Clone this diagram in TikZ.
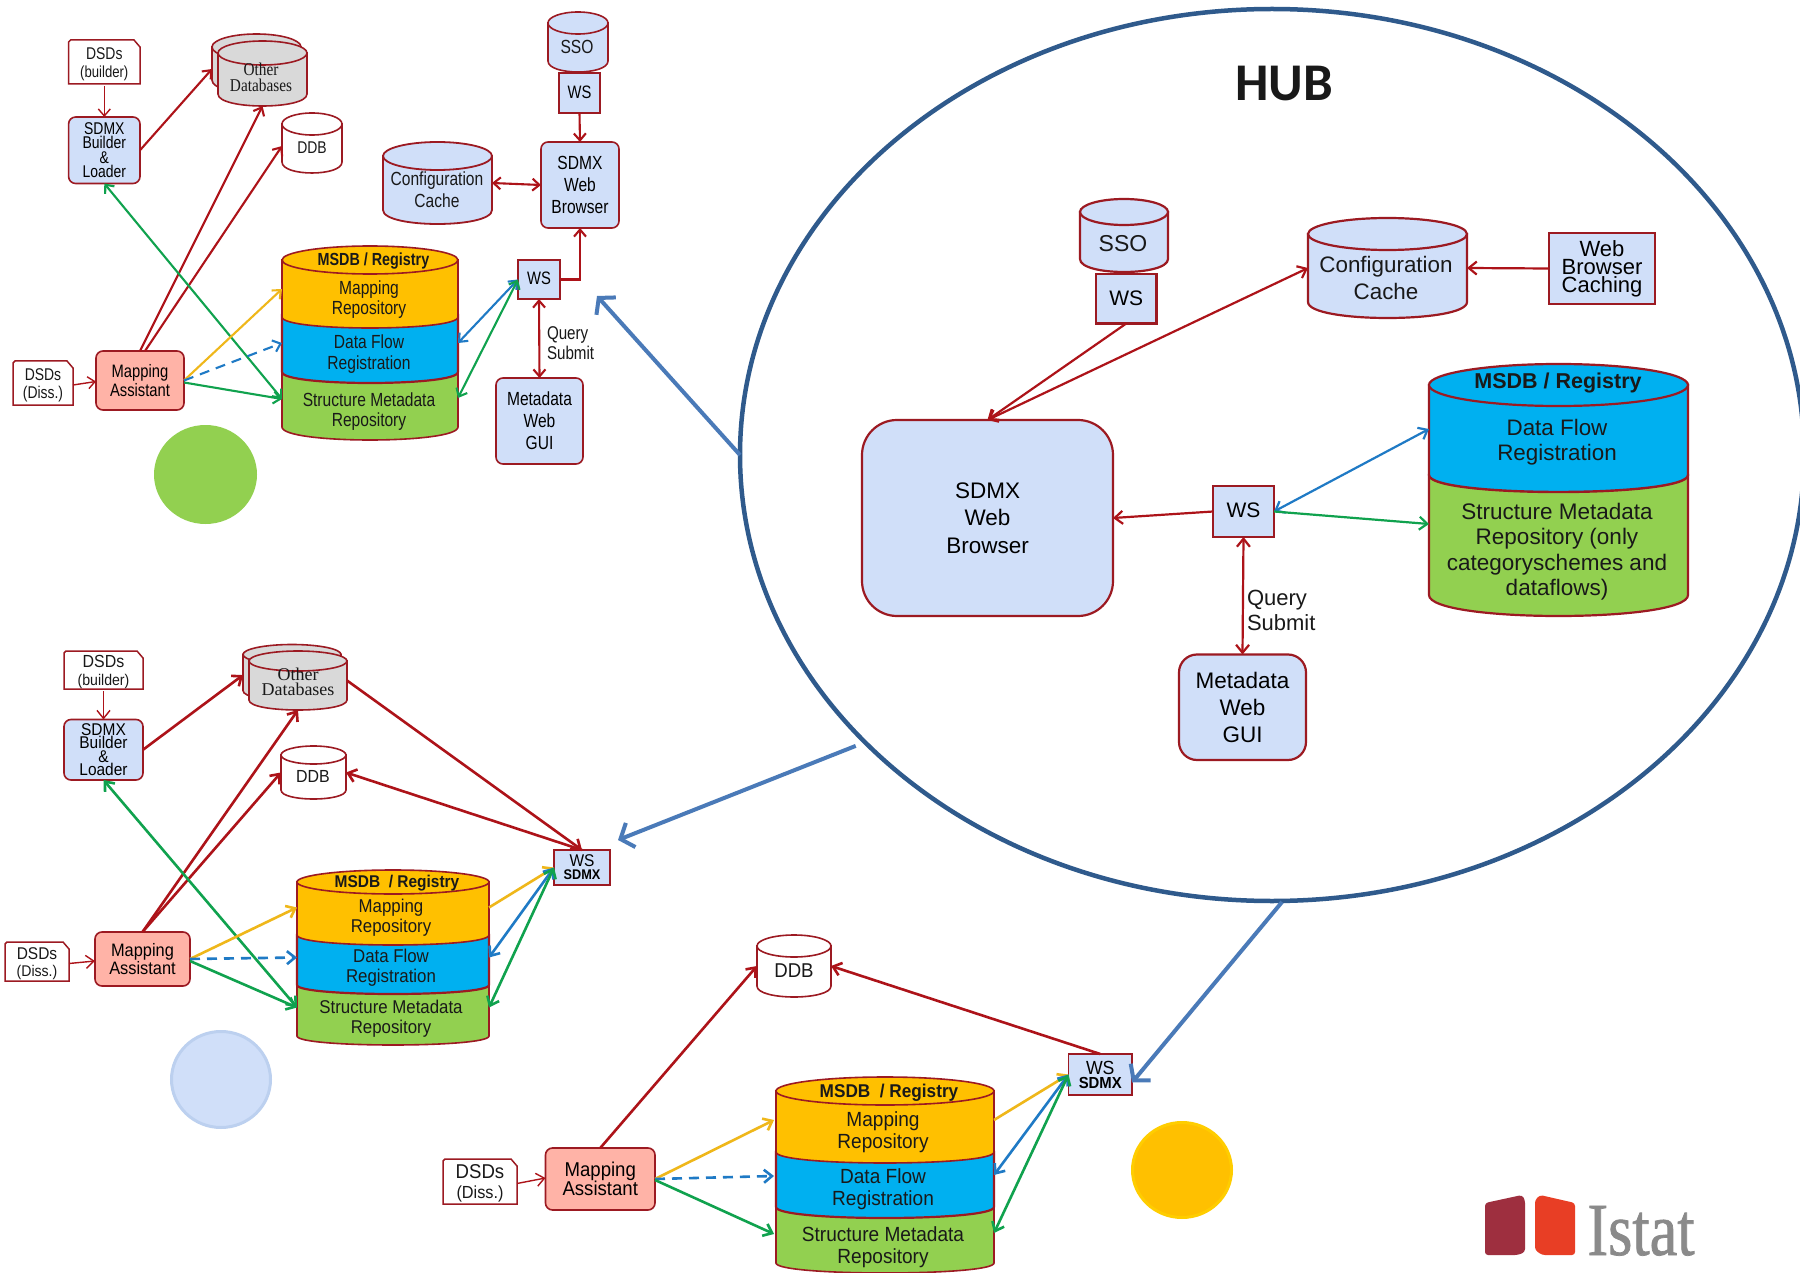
\documentclass[tikz,border=0pt]{standalone}
\usepackage{fontspec}
\usetikzlibrary{arrows.meta,calc,shapes.geometric}
\setmainfont{Liberation Sans}
\newfontfamily\fA[FakeStretch=.82]{Liberation Sans}
\newfontfamily\fB[FakeStretch=.91]{Liberation Sans}
\newfontfamily\fC[FakeStretch=.93]{Liberation Sans}
\newfontfamily\fH{Liberation Sans}
\newfontfamily\serifA[FakeStretch=.85]{Liberation Serif}
\newfontfamily\serifB{Liberation Serif}
\newfontfamily\logofont[FakeStretch=.83,FakeBold=1]{Liberation Serif}
\newfontfamily\hubfont{Carlito}
\newcommand\sz[2]{\fontsize{#1}{#2}\selectfont}
\definecolor{dred}{HTML}{9C1A22}
\definecolor{ared}{HTML}{AD1319}
\definecolor{nblue}{HTML}{D0DFF9}
\definecolor{pblue}{HTML}{00B0F0}
\definecolor{pgreen}{HTML}{92D050}
\definecolor{porange}{HTML}{FFC000}
\definecolor{msalmon}{HTML}{FFB3A7}
\definecolor{dgray}{HTML}{D9D9D9}
\definecolor{agreen}{HTML}{10A24E}
\definecolor{ayellow}{HTML}{EFB71A}
\definecolor{ablue}{HTML}{1F7AC5}
\definecolor{hubline}{HTML}{2F5A8C}
\definecolor{hubarrow}{HTML}{4A7AB8}
\definecolor{logodark}{HTML}{9E2F3F}
\definecolor{logored}{HTML}{E83E25}
\definecolor{logogray}{HTML}{8A8A8A}
\tikzset{
  lw/.style={line width=1.6pt},
  nodebase/.style={draw=dred,lw,inner sep=0pt,outer sep=0pt,align=center},
  bluebox/.style={nodebase,fill=nblue,rounded corners=7pt},
  squarebox/.style={nodebase,fill=nblue},
  salmonbox/.style={nodebase,fill=msalmon,rounded corners=7pt},
  anchorbox/.style={inner sep=0pt,outer sep=0pt},
  txt/.style={inner sep=0pt,outer sep=0pt,align=center,text=black!90},
  conn/.style={line width=2.1pt,>={Straight Barb[length=7pt,width=12pt]}},
  thinred/.style={conn,draw=ared,line width=1.4pt},
  redc/.style={conn,draw=ared},
  greenc/.style={conn,draw=agreen},
  yellowc/.style={conn,draw=ayellow},
  bluec/.style={conn,draw=ablue},
  dashc/.style={conn,draw=ablue,dash pattern=on 10pt off 7pt},
  hubc/.style={line width=4pt,draw=hubarrow,>={Straight Barb[length=11pt,width=26pt]}}
}
% box: style, name, x1, y1, x2, y2, text
\newcommand\bx[7]{\node[#1,minimum width={(#5-#3)*1pt},minimum height={(#6-#4)*1pt}] (#2) at ({(#3+#5)/2},{(#4+#6)/2}) {#7};}
% text: name, x, y, font, text
\newcommand\tx[5]{\node[txt,font={#4}] (#1) at (#2,#3) {#5};}
% layer: x1, x2, ytop, ybottom, ry, fill, line width
\newcommand\layer[7]{\filldraw[draw=dred,fill=#6,line width=#7pt] (#1,#3) -- (#1,#4) .. controls (#1,{#4+1.333*#5}) and (#2,{#4+1.333*#5}) .. (#2,#4) -- (#2,#3) -- cycle;}
% lid: x1, x2, yc, ry, fill, line width
\newcommand\lid[6]{\filldraw[draw=dred,fill=#5,line width=#6pt] ({(#1+#2)/2},#3) ellipse [x radius={(#2-#1)/2},y radius=#4];}
% cylinder: name, x1, y1, x2, y2, ry, fill, line width
\newcommand\cyl[8]{\layer{#2}{#4}{#3+#6}{#5-#6}{#6}{#7}{#8}\lid{#2}{#4}{#3+#6}{#6}{#7}{#8}\bx{anchorbox}{#1}{#2}{#3}{#4}{#5}{}}
% document: name, x1, y1, x2, y2, font, text
\newcommand\docshape[7]{\filldraw[draw=dred,fill=white,line width=1.5pt] (#2,#3+2) -- (#2,#5) -- (#4,#5) -- (#4,#3+7) -- (#4-6,#3) -- (#2+2,#3) -- cycle;\node[txt,font={#6},minimum width={(#4-#2)*1pt},minimum height={(#5-#3)*1pt}] (#1) at ({(#2+#4)/2},{(#3+#5)/2+2}) {#7};}
\begin{document}
\begin{tikzpicture}[x=1pt,y=-1pt]
\clip (0,0) rectangle (1800,1273);
\fill[white] (0,0) rectangle (1800,1273);
% ---------- hub ring
\node[draw=hubline,line width=4.5pt,ellipse,inner sep=0pt,outer sep=0pt,minimum width=1064pt,minimum height=892pt] (hub) at (1272,455) {};
\tx{hubtitle}{1284}{84}{\hubfont\bfseries\sz{53}{54}}{HUB}
% ---------- status dots
\node[ellipse,fill=pgreen,inner sep=0pt,minimum width=103pt,minimum height=99pt] (dotA) at (205.5,474.5) {};
\node[ellipse,fill=nblue,draw=nblue!85!hubarrow,line width=3pt,inner sep=0pt,minimum width=99pt,minimum height=96pt] (dotB) at (221,1079.5) {};
\node[ellipse,fill=porange,draw=porange!80!yellow,line width=3pt,inner sep=0pt,minimum width=99pt,minimum height=95pt] (dotC) at (1182,1170) {};
% ---------- cluster A
\docshape{dsdbA}{68.6}{40}{140}{84}{\fA\sz{17}{18}}{DSDs\\\sz{16}{18}(builder)}
\bx{bluebox,font={\fA\sz{17}{14.6}}}{builderA}{68.6}{117}{140}{183.5}{SDMX\\Builder\\\&\\Loader}
\cyl{otherBackA}{212}{34}{301}{93}{13}{dgray}{1.6}
\cyl{otherA}{218}{41}{307}{106}{12}{dgray}{1.6}
\tx{otherTxtA}{261}{77}{\serifA\sz{18}{16}}{Other\\Databases}
\cyl{ddbA}{282}{113}{342}{173}{11}{white}{1.6}
\tx{ddbTxtA}{312}{148}{\fA\sz{17}{18}}{DDB}
\cyl{ssoA}{548}{12}{608}{72}{11}{nblue}{1.6}
\tx{ssoTxtA}{577}{47}{\fA\sz{19}{20}}{SSO}
\bx{squarebox,font={\fA\sz{18}{18}}}{wsSsoA}{559}{73}{600}{113}{\raisebox{2pt}{WS}}
\cyl{cacheA}{383}{142}{492}{224}{14}{nblue}{1.8}
\tx{cacheTxtA}{437}{190}{\fA\sz{19}{21.8}}{Configuration\\Cache}
\bx{bluebox,font={\fA\sz{19}{22}}}{browserA}{541}{142}{619}{228}{SDMX\\Web\\Browser}
% msdb A
\layer{282}{458}{370}{427}{13}{pgreen}{1.6}
\layer{282}{458}{315}{372}{11}{pblue}{2.2}
\layer{282}{458}{260}{317}{11}{porange}{1.6}
\lid{282}{458}{260}{14}{porange}{1.6}
\bx{anchorbox}{msdbA}{282}{246}{458}{440}{}
\tx{msdbTtlA}{373.5}{261}{\fA\bfseries\sz{17.5}{18}}{MSDB / Registry}
\tx{mapRepA}{369}{300}{\fA\sz{19}{20}}{Mapping\\Repository}
\tx{dfrA}{369}{354}{\fA\sz{19}{20.7}}{Data Flow\\Registration}
\tx{smrA}{369}{411.5}{\fA\sz{19}{20.7}}{Structure Metadata\\Repository}
\bx{squarebox,font={\fA\sz{18}{18}}}{wsA}{518}{260}{560}{299}{\raisebox{2pt}{WS}}
\bx{bluebox,font={\fA\sz{19}{22}}}{guiA}{496}{378}{583}{464}{Metadata\\Web\\GUI}
\bx{salmonbox,font={\fA\sz{18}{19}}}{mapA}{96}{351}{184}{410}{Mapping\\Assistant}
\docshape{dsddA}{13}{361}{73}{405}{\fA\sz{17}{18}}{DSDs\\(Diss.)}
\node[txt,align=left,anchor=west,font={\fA\sz{18.5}{20}}] (qsA) at (547,343) {Query\\Submit};
% connectors A
\draw[thinred,->] (dsdbA.south) -- (builderA.north);
\draw[redc,->] (builderA.east) -- ($(otherBackA.west)+(0,5.5)$);
\draw[redc,->] (mapA.north) -- (otherA.south);
\draw[redc,->] ($(mapA.north)+(5,0)$) -- ($(ddbA.west)+(0,3)$);
\draw[greenc,<->] (builderA.south) -- ($(msdbA.west)+(0,56)$);
\draw[yellowc,->] (mapA.east) -- ($(msdbA.west)+(0,-54)$);
\draw[dashc,->] (mapA.east) -- (msdbA.west);
\draw[greenc,->] ($(mapA.east)+(0,2)$) -- ($(msdbA.west)+(0,56)$);
\draw[thinred,->] (dsddA.east) -- ($(mapA.west)+(0,1)$);
\draw[redc,->] (wsSsoA.south) -- (browserA.north);
\draw[redc,<->] (cacheA.east) -- (browserA.west);
\draw[redc,->] (wsA.east) -| (browserA.south);
\draw[redc,<->] (wsA.south) -- (guiA.north);
\draw[bluec,<->] (wsA.west) -- (msdbA.east);
\draw[greenc,<->] (wsA.west) -- ($(msdbA.east)+(0,55)$);
\coordinate (tipA) at (597,296);
\draw[hubc,->] (hub.west) -- (tipA);
% ---------- cluster B
\tikzset{conn/.style={line width=2.6pt,>={Straight Barb[length=8pt,width=13pt]}}}
\docshape{dsdbB}{64}{651}{143}{689}{\fB\sz{17.5}{18}}{DSDs\\\sz{15.5}{18}(builder)}
\bx{bluebox,font={\fB\sz{17}{13.3}}}{builderB}{64}{719.5}{143}{780}{SDMX\\Builder\\\&\\Loader}
\cyl{otherBackB}{243}{644.5}{341}{700.6}{10}{dgray}{1.6}
\cyl{otherB}{249}{651}{347}{710}{10}{dgray}{1.6}
\tx{otherTxtB}{298}{682}{\serifB\sz{18}{15}}{Other\\Databases}
\cyl{ddbB}{281}{746}{346}{799}{9}{white}{1.6}
\tx{ddbTxtB}{313}{776}{\fB\sz{17.5}{18}}{DDB}
\layer{297}{489}{986}{1036}{9}{pgreen}{1.6}
\layer{297}{489}{935}{985}{9}{pblue}{2.2}
\layer{297}{489}{882}{935}{10}{porange}{1.6}
\lid{297}{489}{882}{12}{porange}{1.6}
\bx{anchorbox}{msdbB}{297}{870}{489}{1045}{}
\tx{msdbTtlB}{397}{883.5}{\fB\bfseries\sz{17}{18}}{MSDB\ \ / Registry}
\tx{mapRepB}{391}{918}{\fB\sz{18.5}{19.6}}{Mapping\\Repository}
\tx{dfrB}{391}{968}{\fB\sz{18.5}{19.6}}{Data Flow\\Registration}
\tx{smrB}{391}{1019}{\fB\sz{18.5}{19.6}}{Structure Metadata\\Repository}
\bx{squarebox,font={\fB\sz{17}{12}}}{wsB}{554}{850}{610}{885}{\raisebox{1pt}{WS}\\\bfseries\sz{14}{12}SDMX}
\bx{salmonbox,font={\fB\sz{18}{16.5}}}{mapB}{95}{932}{190}{986}{Mapping\\Assistant}
\docshape{dsddB}{5}{942}{69}{981}{\fB\sz{17}{17.5}}{DSDs\\\sz{15.5}{17.5}(Diss.)}
% connectors B
\draw[thinred,->] (dsdbB.south) -- (builderB.north);
\draw[redc,->] (builderB.east) -- ($(otherBackB.west)+(0,2.5)$);
\draw[redc,->] (mapB.north) -- (otherB.south);
\draw[redc,->] (mapB.north) -- (ddbB.west);
\draw[greenc,<->] (builderB.south) -- ($(msdbB.west)+(0,50)$);
\draw[yellowc,->] (mapB.east) -- ($(msdbB.west)+(0,-50)$);
\draw[dashc,->] (mapB.east) -- (msdbB.west);
\draw[greenc,->] ($(mapB.east)+(0,2)$) -- ($(msdbB.west)+(0,50)$);
\draw[thinred,->] (dsddB.east) -- ($(mapB.west)+(0,2)$);
\draw[redc,->] (otherB.east) -- (wsB.north);
\draw[redc,->] (wsB.north) -- (ddbB.east);
\draw[yellowc,->] ($(msdbB.east)+(0,-50)$) -- (wsB.west);
\draw[bluec,<->] (msdbB.east) -- (wsB.west);
\draw[greenc,<->] ($(msdbB.east)+(0,50)$) -- (wsB.west);
\coordinate (tipB) at (618,840);
\draw[hubc,->] ($(hub.215)+(-8,5)$) -- (tipB);
% ---------- cluster C
\cyl{ddbC}{757}{935}{831}{997}{11}{white}{1.6}
\tx{ddbTxtC}{794}{971}{\fC\sz{20}{20}}{DDB}
\layer{776}{994}{1207}{1263}{10}{pgreen}{1.6}
\layer{776}{994}{1152}{1207}{11}{pblue}{2.2}
\layer{776}{994}{1091}{1152}{11}{porange}{1.6}
\lid{776}{994}{1091}{14}{porange}{1.6}
\bx{anchorbox}{msdbC}{776}{1077}{994}{1273}{}
\tx{msdbTtlC}{889}{1093}{\fC\bfseries\sz{18.5}{19}}{MSDB\ \ / Registry}
\tx{mapRepC}{883}{1132}{\fC\sz{20.5}{22}}{Mapping\\Repository}
\tx{dfrC}{883}{1189}{\fC\sz{20.5}{22}}{Data Flow\\Registration}
\tx{smrC}{883}{1247}{\fC\sz{20.5}{22}}{Structure Metadata\\Repository}
\bx{squarebox,font={\fC\sz{19}{14}}}{wsC}{1068.5}{1054}{1132}{1095}{WS\\\bfseries\sz{16}{14}SDMX}
\bx{salmonbox,font={\fC\sz{20}{19}}}{mapC}{545.5}{1148}{655}{1210}{Mapping\\Assistant}
\docshape{dsddC}{443}{1159}{517}{1204}{\fC\sz{20}{20}}{DSDs\\\sz{17.5}{20}(Diss.)}
% connectors C
\draw[thinred,->] (dsddC.east) -- ($(mapC.west)+(0,-1)$);
\draw[redc,->] (mapC.north) -- (ddbC.west);
\draw[redc,->] (wsC.north) -- (ddbC.east);
\draw[yellowc,->] (mapC.east) -- ($(msdbC.west)+(-2,-55)$);
\draw[dashc,->] (mapC.east) -- ($(msdbC.west)+(-2,1)$);
\draw[greenc,->] ($(mapC.east)+(0,1)$) -- ($(msdbC.west)+(-2,59)$);
\draw[yellowc,->] ($(msdbC.east)+(0,-55)$) -- (wsC.west);
\draw[bluec,<->] (msdbC.east) -- (wsC.west);
\draw[greenc,<->] ($(msdbC.east)+(0,58)$) -- (wsC.west);
\draw[hubc,->] ($(hub.south)+(10,1)$) -- ($(wsC.east)+(0,8)$);
% ---------- hub contents
\tikzset{lw/.style={line width=2.2pt},conn/.style={line width=2.2pt,>={Straight Barb[length=8pt,width=13pt]}}}
\cyl{ssoH}{1080}{199}{1168}{272}{13}{nblue}{2.2}
\tx{ssoTxtH}{1123}{244}{\fH\sz{23}{24}}{SSO}
\bx{squarebox,font={\fH\sz{21}{22}}}{wsSsoH}{1096}{274}{1156.5}{323.5}{\raisebox{2pt}{WS}}
\cyl{cacheH}{1308}{218}{1467}{318}{16}{nblue}{2.2}
\tx{cacheTxtH}{1386}{278}{\fH\sz{22.4}{27.6}}{Configuration\\Cache}
\bx{squarebox,font={\fH\sz{22}{18}}}{wbcH}{1549}{233}{1655}{304}{\raisebox{1pt}{Web}\\\raisebox{1pt}{Browser}\\\raisebox{1pt}{Caching}}
\layer{1429}{1688}{475}{595}{21}{pgreen}{2.2}
\layer{1429}{1688}{385}{475}{17}{pblue}{2.4}
\lid{1429}{1688}{385}{21}{pblue}{2.2}
\bx{anchorbox}{msdbH}{1429}{364}{1688}{616}{}
\tx{msdbTtlH}{1558}{383}{\fH\bfseries\sz{21.5}{22}}{MSDB / Registry}
\tx{dfrH}{1557}{442}{\fH\sz{22.4}{25}}{Data Flow\\Registration}
\tx{smrH}{1557}{551.5}{\fH\sz{22.5}{25.5}}{Structure Metadata\\Repository (only\\categoryschemes and\\dataflows)}
\bx{bluebox,rounded corners=35pt,font={\fH\sz{22.5}{27.5}}}{browserH}{862}{420}{1113}{616}{SDMX\\Web\\Browser}
\bx{squarebox,font={\fH\sz{21}{22}}}{wsH}{1213}{486}{1274}{537}{\raisebox{2pt}{WS}}
\bx{bluebox,rounded corners=18pt,font={\fH\sz{22.5}{27}}}{guiH}{1179}{654.5}{1306}{760}{Metadata\\Web\\GUI}
\node[txt,align=left,anchor=west,font={\fH\sz{22}{25}}] (qsH) at (1247,610.5) {Query\\Submit};
% connectors hub
\draw[redc,->] (wsSsoH.south) -- (browserH.north);
\draw[redc,<->] (browserH.north) -- (cacheH.west);
\draw[redc,->] (wbcH.west) -- (cacheH.east);
\draw[redc,->] (wsH.west) -- (browserH.east);
\draw[bluec,<->] (wsH.east) -- ($(msdbH.west)+(0,-61)$);
\draw[greenc,->] (wsH.east) -- ($(msdbH.west)+(0,34)$);
\draw[redc,<->] (wsH.south) -- (guiH.north);
% ---------- logo
\fill[logodark,rounded corners=3pt] (1485,1203) -- (1522,1195) -- (1525,1200) -- (1525,1252) -- (1518,1255) -- (1485,1255) -- cycle;
\fill[logored,rounded corners=3pt] (1535,1200) -- (1540,1195) -- (1575,1203) -- (1575,1255) -- (1542,1255) -- (1535,1250) -- cycle;
\node[inner sep=0pt,outer sep=0pt,anchor=base,font={\logofont\sz{75}{78}},text=logogray] (istat) at (1641,1255) {Istat};
\end{tikzpicture}
\end{document}
